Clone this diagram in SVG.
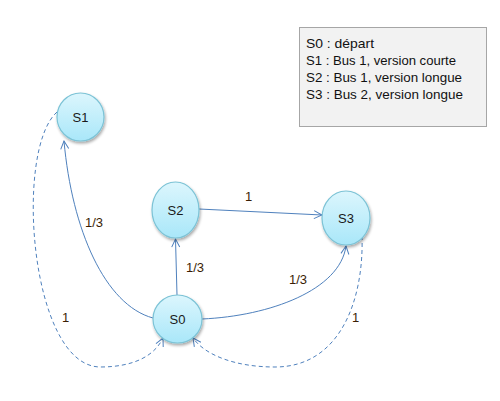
<svg xmlns="http://www.w3.org/2000/svg" width="500" height="401" viewBox="0 0 500 401">
<defs>
<linearGradient id="g" x1="0" y1="0" x2="0" y2="1">
<stop offset="0" stop-color="#dcf6fd"/>
<stop offset="1" stop-color="#a9e7f9"/>
</linearGradient>
<filter id="sh" x="-30%" y="-30%" width="160%" height="170%">
<feGaussianBlur in="SourceAlpha" stdDeviation="1.5"/>
<feOffset dx="1" dy="2" result="b"/>
<feComponentTransfer><feFuncA type="linear" slope="0.35"/></feComponentTransfer>
<feMerge><feMergeNode/><feMergeNode in="SourceGraphic"/></feMerge>
</filter>
<marker id="ar" markerWidth="10" markerHeight="10" refX="9" refY="5" orient="auto" markerUnits="userSpaceOnUse">
<path d="M1,1 L9,5 L1,9" fill="none" stroke="#4f81bd" stroke-width="1"/>
</marker>
</defs>
<style>
.node{fill:url(#g);stroke:#7cc3d6;stroke-width:1.2;filter:url(#sh)}
.lbl{font-family:"Liberation Sans",Arial,sans-serif;font-size:13px;fill:#1a1a1a;text-anchor:middle}
.e{fill:none;stroke:#4f81bd;stroke-width:1;marker-end:url(#ar)}
.d{stroke-dasharray:4,3}
.el{font-family:"Liberation Sans",Arial,sans-serif;font-size:13px;fill:#3a1e05}
.leg{font-family:"Liberation Sans",Arial,sans-serif;font-size:13px;fill:#111}
</style>
<rect width="500" height="401" fill="#fff"/>
<g id="legend">
<rect x="299.500" y="27.500" width="187" height="99" fill="#f2f2f2" stroke="#a6a6a6" stroke-width="1"/>
<text class="leg" x="306" y="48" textLength="68" lengthAdjust="spacingAndGlyphs">S0 : départ</text>
<text class="leg" x="306" y="65" textLength="150" lengthAdjust="spacingAndGlyphs">S1 : Bus 1, version courte</text>
<text class="leg" x="306" y="82" textLength="156" lengthAdjust="spacingAndGlyphs">S2 : Bus 1, version longue</text>
<text class="leg" x="306" y="99" textLength="157" lengthAdjust="spacingAndGlyphs">S3 : Bus 2, version longue</text>
</g>
<g id="connectors">
<path class="e" d="M153,318 C105,305 72,230 64,141"/>
<path class="e" d="M177,295 L175.500,239"/>
<path class="e" d="M202,319 C270,316 340,290 346,246"/>
<path class="e" d="M199,209 L322,215"/>
<path class="e d" d="M57,112 C14,150 30,366 100,367 C135,367 155,355 163,338"/>
<path class="e d" d="M362,236 C364,300 340,367 275,367 C235,367 205,355 193,338"/>
<text class="el" x="85" y="227">1/3</text>
<text class="el" x="186" y="272">1/3</text>
<text class="el" x="289" y="284">1/3</text>
<text class="el" x="245" y="201">1</text>
<text class="el" x="62" y="322">1</text>
<text class="el" x="352" y="322">1</text>
</g>
<g id="S1"><ellipse class="node" cx="80.500" cy="117" rx="23.500" ry="24"/><text class="lbl" x="80.500" y="122">S1</text></g>
<g id="S2"><ellipse class="node" cx="175.500" cy="210" rx="23.500" ry="28"/><text class="lbl" x="175.500" y="215">S2</text></g>
<g id="S3"><ellipse class="node" cx="346" cy="218" rx="24" ry="27"/><text class="lbl" x="346" y="223">S3</text></g>
<g id="S0"><ellipse class="node" cx="177.500" cy="319" rx="24.500" ry="24"/><text class="lbl" x="177.500" y="324">S0</text></g>
</svg>
